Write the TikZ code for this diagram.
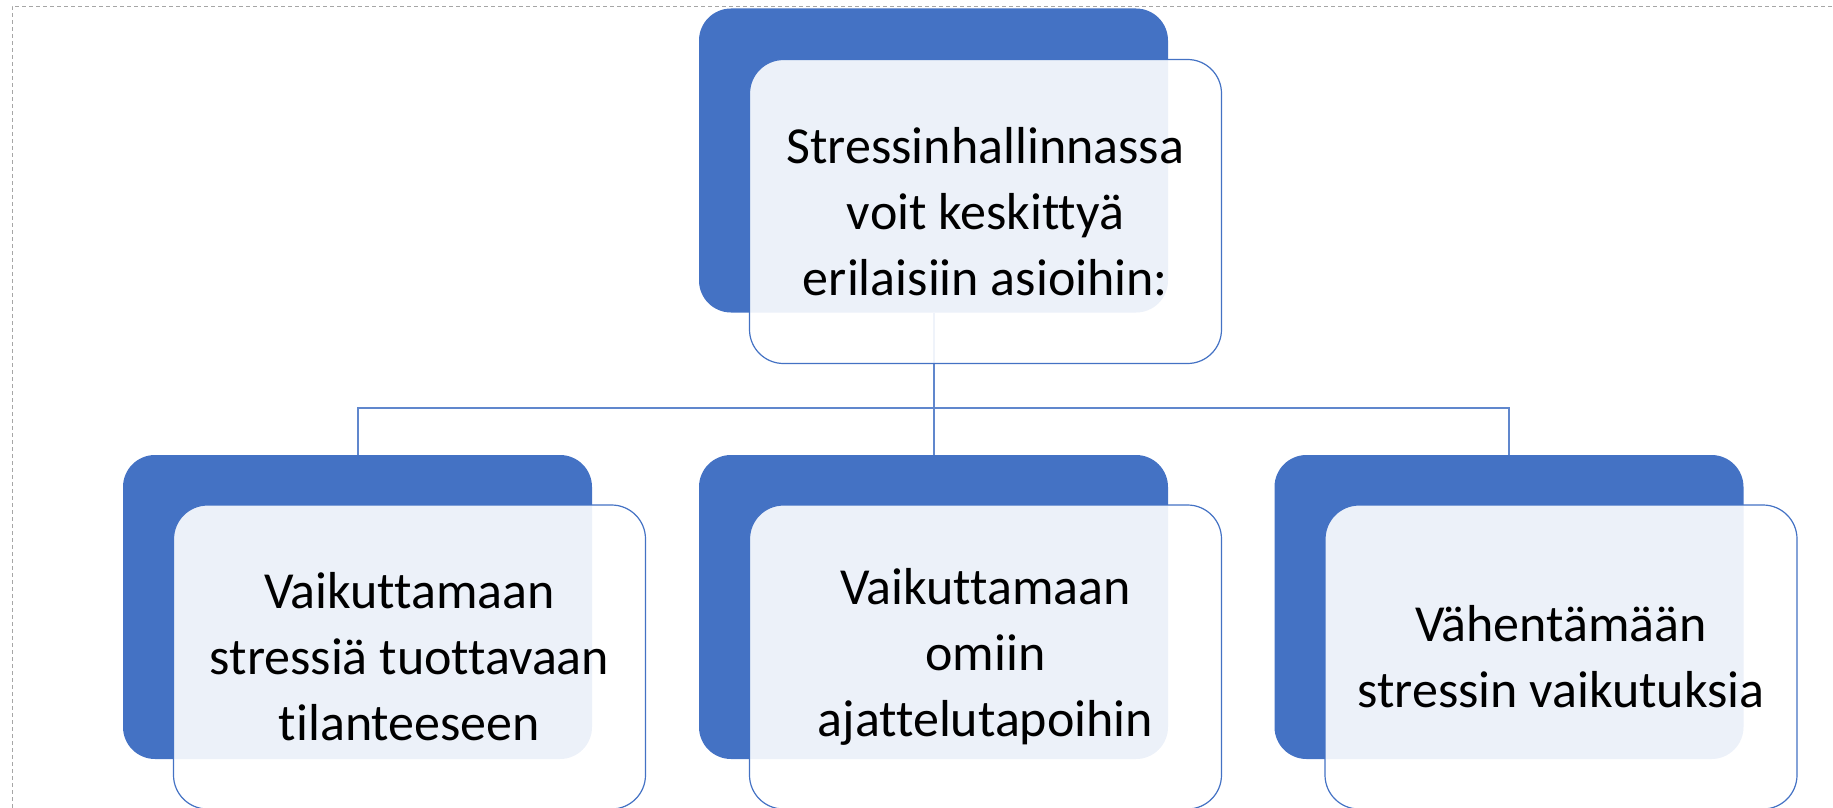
\documentclass[tikz,border=0pt]{standalone}
\usepackage{fontspec}
\setmainfont[Ligatures=CommonOff]{Carlito}
\usepackage{tikz}
\usetikzlibrary{positioning}
\definecolor{officeblue}{HTML}{4472C4}
\definecolor{framegray}{HTML}{A6A6A6}

\begin{document}
\begin{tikzpicture}[x=0.5pt,y=-0.5pt,
  backbox/.style={rounded corners=16pt,fill=officeblue,minimum width=234.5pt,minimum height=152pt,inner sep=0pt},
  frontbox/.style={draw=officeblue,line width=0.6pt,rounded corners=17pt,fill=white,fill opacity=0.9,text opacity=1,minimum width=236pt,minimum height=152pt,inner sep=0pt,align=center,font=\fontsize{26}{33}\selectfont},
  link/.style={draw=officeblue!85,line width=1pt}]
\useasboundingbox (0,0) rectangle (1833,808);
\draw[framegray,dash pattern=on 2pt off 1.5pt] (12,808) -- (12,6) -- (1833,6);
% back layer
\node[backbox] (rootback) at (933.5,160.5) {};
\node[backbox] (leftback) at (357.5,607) {};
\node[backbox] (midback) at (933.5,607) {};
\node[backbox] (rightback) at (1509,607) {};
% connectors
\coordinate (bar) at (933.5,408);
\draw[link] (rootback.south) -- (bar) -- (midback.north);
\draw[link] (leftback.north) |- (bar) -| (rightback.north);
% front layer
\node[frontbox,text depth=-4pt] (root) at ([shift={(52,51)}]rootback.center) {Stressinhallinnassa\\voit keskittyä\\erilaisiin asioihin:};
\node[frontbox] (left) at ([shift={(52,50)}]leftback.center) {Vaikuttamaan\\stressiä tuottavaan\\tilanteeseen};
\node[frontbox] (mid) at ([shift={(52,50)}]midback.center) {Vaikuttamaan\\omiin\\ajattelutapoihin};
\node[frontbox] (right) at ([shift={(52,50)}]rightback.center) {Vähentämään\\stressin vaikutuksia};
\end{tikzpicture}
\end{document}
